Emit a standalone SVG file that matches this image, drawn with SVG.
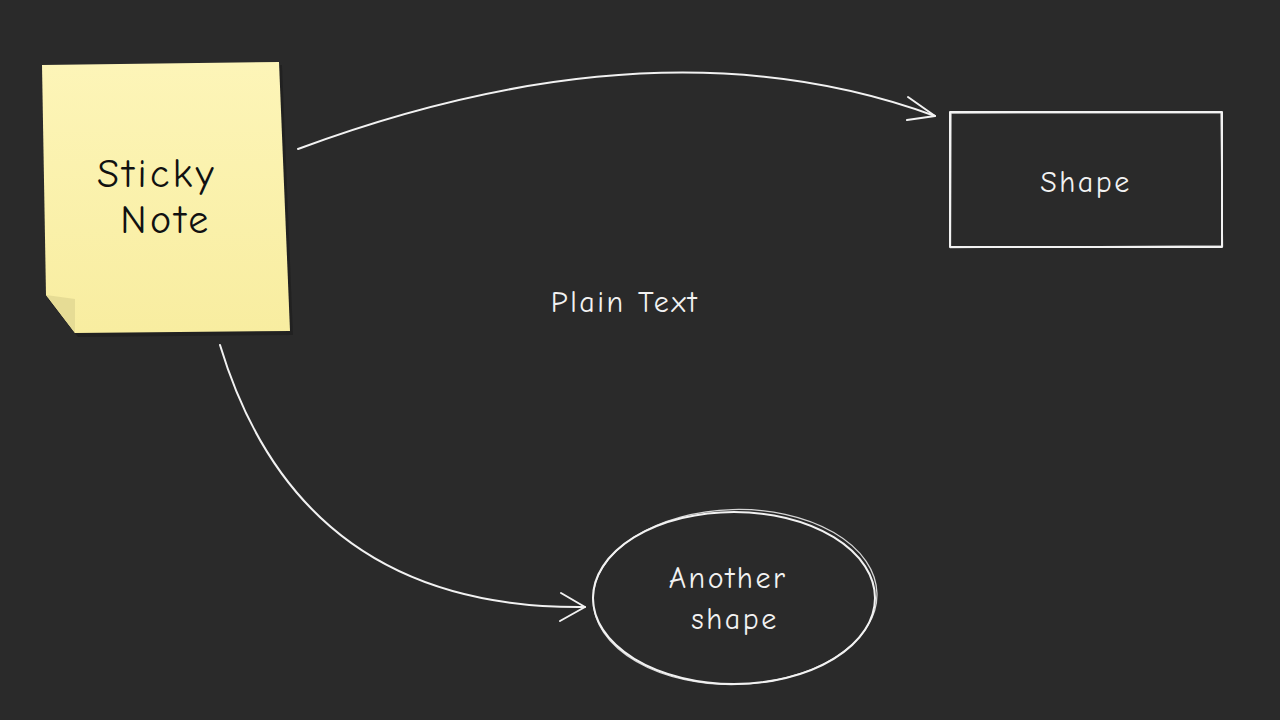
<svg xmlns="http://www.w3.org/2000/svg" width="1280" height="720" viewBox="0 0 1280 720">
<style>
.ln{fill:none;stroke:#f2f2f2;stroke-width:2;stroke-linecap:round;stroke-linejoin:round}
.ln2{fill:none;stroke:#f2f2f2;stroke-width:1.3;stroke-linecap:round;opacity:0.85}
.wt{fill:#f2f2f2;font-family:"Comic Neue","Lato","Liberation Sans",sans-serif;text-anchor:middle;font-size:30px;letter-spacing:2.5px}
.bk{fill:#111;font-family:"Comic Neue","Lato","Liberation Sans",sans-serif;text-anchor:middle;font-size:40px;letter-spacing:3.5px}
</style>
<defs>
<linearGradient id="note" x1="0" y1="0" x2="0" y2="1">
<stop offset="0" stop-color="#fdf5b8"/>
<stop offset="1" stop-color="#f8eda0"/>
</linearGradient>
</defs>
<rect width="1280" height="720" fill="#2a2a2a"/>
<g id="sticky-note">
<polygon points="45,68 282,65 293,335 78,337 48,299" fill="#1e1e1e" opacity="0.7"/>
<polygon points="42,65 279,62 290,331 75,333 46,295" fill="url(#note)"/>
<polygon points="46,295 75,299 75,333" fill="#e6dc95"/>
<text class="bk" x="157" y="187">Sticky</text>
<text class="bk" x="166" y="233">Note</text>
</g>
<g id="shape">
<rect x="950" y="112" width="272" height="135" class="ln"/>
<path d="M951 113 L1221 112.5 L1222.5 246 L950.5 247.5 Z" class="ln2"/>
<text class="wt" x="1086" y="192">Shape</text>
</g>
<g id="plain-text">
<text class="wt" x="625" y="312">Plain Text</text>
</g>
<g id="another-shape">
<ellipse cx="734" cy="598" rx="141" ry="86" class="ln"/>
<ellipse cx="735" cy="597" rx="142" ry="87.5" class="ln2" transform="rotate(-1.5 735 597)"/>
<text class="wt" x="728" y="588" letter-spacing="3">Another</text>
<text class="wt" x="735" y="629" letter-spacing="3">shape</text>
</g>
<g id="connectors">
<path d="M298 149 Q 660 15 935 116" class="ln"/>
<path d="M908 97 L935 116 L907 120" class="ln"/>
<path d="M220 345 Q 300 610 585 607" class="ln"/>
<path d="M561 593 L585 607 L560 621" class="ln"/>
</g>
</svg>
